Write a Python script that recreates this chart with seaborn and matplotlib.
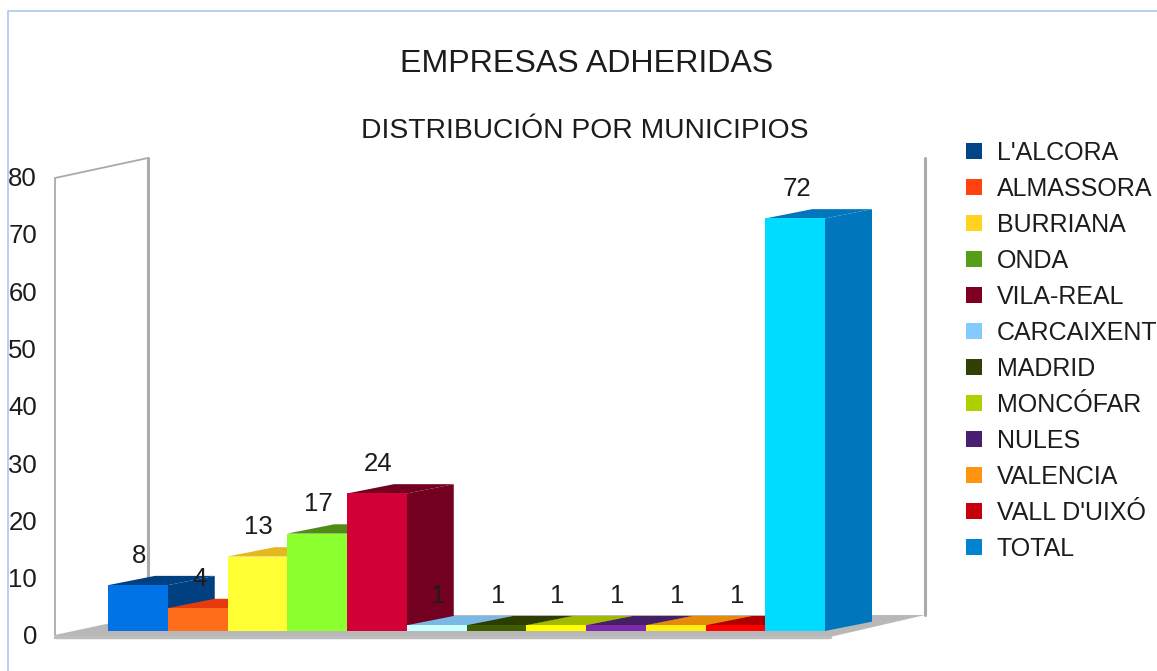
import matplotlib
matplotlib.use('Agg')
import matplotlib.pyplot as plt
import matplotlib.transforms as mtrans
from matplotlib.lines import Line2D
from matplotlib.patches import Patch, Polygon
import pandas as pd
import seaborn as sns

# values
municipios = ["L'ALCORA", 'ALMASSORA', 'BURRIANA', 'ONDA', 'VILA-REAL', 'CARCAIXENT',
              'MADRID', 'MONCÓFAR', 'NULES', 'VALENCIA', "VALL D'UIXÓ", 'TOTAL']
empresas = [8, 4, 13, 17, 24, 1, 1, 1, 1, 1, 1, 72]
y_ticks = [0, 10, 20, 30, 40, 50, 60, 70, 80]

# the 3D effect gives each series three shades
legend_colors = ['#004586', '#ff420e', '#ffd320', '#579d1c', '#7e0021', '#83caff',
                 '#314004', '#aecf00', '#4b1f6f', '#ff950e', '#c5000b', '#0084d1']
front_colors = ['#0073e6', '#ff6d1a', '#ffff33', '#8cff2e', '#d20037', '#ccffff',
                '#3e5c00', '#ffff00', '#7e2aa8', '#ffee11', '#ff0000', '#00dcff']
depth_colors = ['#004080', '#e53b0d', '#e6b81f', '#4f8c14', '#730020', '#7ab8e6',
                '#2d3c00', '#a3ba00', '#451e68', '#e68a0a', '#b00000', '#0077bd']

W, H = 1157, 671
BAR_PX = 59.75     # width of one bar
UNIT_PX = 5.73     # height of one company
BARS_LEFT = 108
BASE_ROW = 631
DEPTH_X = 47 / BAR_PX
DEPTH_Y = 9.3 / UNIT_PX
AX_LEFT, AX_RIGHT, AX_TOP, AX_BOTTOM = 55, 925, 158, 638

sns.set_theme(style='white')
plt.rcParams['font.family'] = ['Liberation Sans', 'DejaVu Sans']
plt.rcParams['text.color'] = '#1c1c1c'

df = pd.DataFrame({'municipio': municipios, 'empresas': empresas})

fig = plt.figure(figsize=(W / 100, H / 100), dpi=100)
ax = fig.add_axes([AX_LEFT / W, 1 - AX_BOTTOM / H, (AX_RIGHT - AX_LEFT) / W, (AX_BOTTOM - AX_TOP) / H])
ax.patch.set_alpha(0)

sns.barplot(data=df, x='municipio', y='empresas', hue='municipio', palette=front_colors,
            order=municipios, hue_order=municipios, dodge=False, width=1, saturation=1,
            legend=False, linewidth=0, ax=ax, zorder=5)

ax.set_xlim((AX_LEFT - BARS_LEFT) / BAR_PX - 0.5, (AX_RIGHT - BARS_LEFT) / BAR_PX - 0.5)
ax.set_ylim((BASE_ROW - AX_BOTTOM) / UNIT_PX, (BASE_ROW - AX_TOP) / UNIT_PX)
sns.despine(ax=ax, left=True, bottom=True)
ax.set_xlabel('')
ax.set_ylabel('')
ax.set_xticks([])
ax.set_yticks(y_ticks)
ax.tick_params(axis='y', length=0, pad=13, labelsize=18.5, labelcolor='#1c1c1c')
shift = mtrans.ScaledTranslation(0, -4 / 100, fig.dpi_scale_trans)
for lab in ax.get_yticklabels():
    lab.set_transform(lab.get_transform() + shift)

# pixel coordinates for the box behind the bars
px = mtrans.Affine2D().scale(1 / W, -1 / H).translate(0, 1) + fig.transFigure
grey = '#b8b8b8'
fig.add_artist(Polygon([(55, 635), (148, 615), (925, 615), (830, 637), (55, 637)],
                       closed=True, fc=grey, ec='none', transform=px, zorder=0))
fig.add_artist(Line2D([55, 830], [636.5, 636.5], color='#bdbdbd', lw=2.5, transform=px, zorder=0))
fig.add_artist(Line2D([55, 55, 148], [635, 178, 158], color='#aaaaaa', lw=1.3, transform=px, zorder=0))
fig.add_artist(Line2D([148, 148], [158, 615], color='#aaaaaa', lw=2.2, transform=px, zorder=0))
fig.add_artist(Line2D([925, 925], [158, 615], color='#aaaaaa', lw=2.2, transform=px, zorder=0))

# page edge
fig.add_artist(Line2D([8, 8, W], [H, 11, 11], color='#a9c8ee', lw=1.2, transform=px))

# side and top faces, built from the bars seaborn drew
bars = [b for c in ax.containers for b in c]
for i, (bar, col) in enumerate(zip(bars, depth_colors)):
    x0, x1 = bar.get_x(), bar.get_x() + bar.get_width()
    top = bar.get_height()
    ax.add_patch(Polygon([(x1, 0), (x1 + DEPTH_X, DEPTH_Y), (x1 + DEPTH_X, top + DEPTH_Y), (x1, top)],
                         closed=True, fc=col, ec='none', clip_on=False, zorder=2 + i * 0.01))
    ax.add_patch(Polygon([(x0, top), (x0 + DEPTH_X, top + DEPTH_Y), (x1 + DEPTH_X, top + DEPTH_Y), (x1, top)],
                         closed=True, fc=col, ec='none', clip_on=False, zorder=2 + i * 0.01))
    ax.annotate(str(empresas[i]), (x0 + bar.get_width() / 2, top), xytext=(1.5 * 0.72, 29.5 * 0.72),
                textcoords='offset points', ha='center', va='center', fontsize=18.5, zorder=10,
                annotation_clip=False)

fig.text(586.5 / W, 1 - 64 / H, 'EMPRESAS ADHERIDAS', ha='center', va='center', fontsize=23.1)
fig.text(584.5 / W, 1 - 131 / H, 'DISTRIBUCIÓN POR MUNICIPIOS', ha='center', va='center', fontsize=20.3)

handles = [Patch(fc=c, ec='none') for c in legend_colors]
ax.legend(handles, municipios, loc='upper left', bbox_to_anchor=(966 / W, 1 - 141 / H),
          bbox_transform=fig.transFigure, frameon=False, borderpad=0, borderaxespad=0,
          fontsize=18, handlelength=0.64, handleheight=0.64, handletextpad=0.59,
          labelspacing=0.48, labelcolor='#1c1c1c')

fig.savefig('out.png', dpi=100)
